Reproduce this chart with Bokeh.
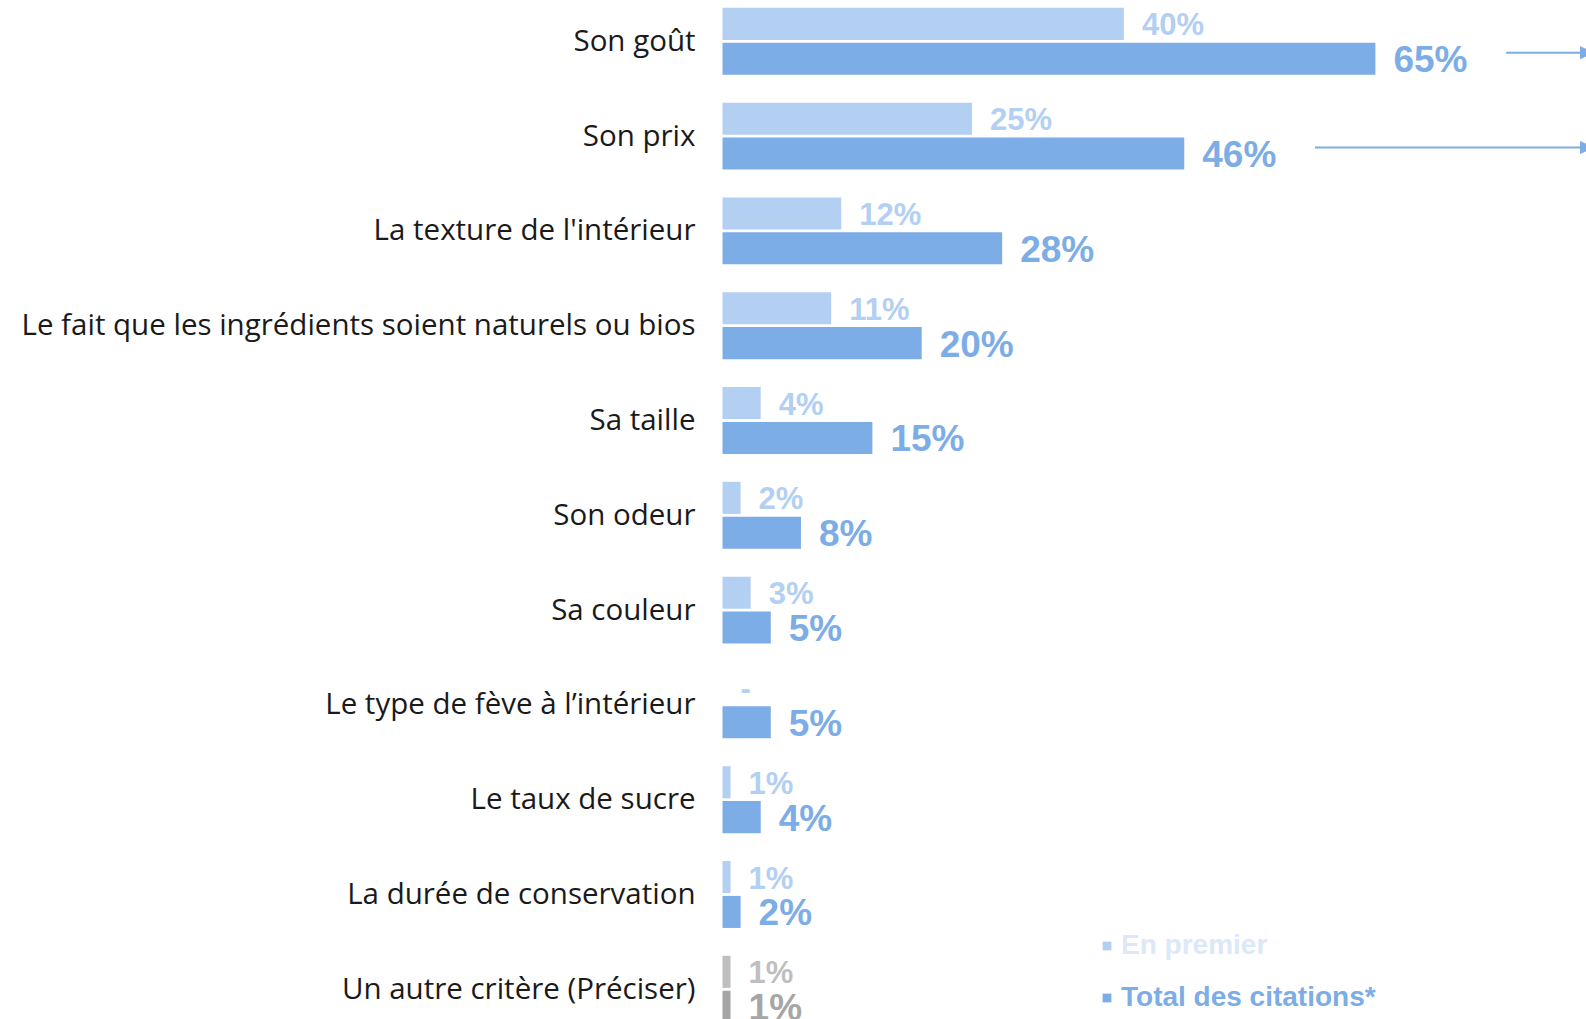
from bokeh.plotting import figure
from bokeh.models import ColumnDataSource, Range1d, Arrow, NormalHead, Legend, LegendItem
from bokeh.transform import dodge
from bokeh.core.properties import value
from bokeh.embed import file_html
from bokeh.resources import INLINE

# ---------------- data ----------------
categories = [
    "Son goût",
    "Son prix",
    "La texture de l'intérieur",
    "Le fait que les ingrédients soient naturels ou bios",
    "Sa taille",
    "Son odeur",
    "Sa couleur",
    "Le type de fève à l’intérieur",
    "Le taux de sucre",
    "La durée de conservation",
    "Un autre critère (Préciser)",
]
# bar lengths (unrounded), and their printed labels
en_premier = [39.9, 24.8, 11.8, 10.8, 3.8, 1.8, 2.8, 0, 0.8, 0.8, 0.8]
total_citations = [64.9, 45.9, 27.8, 19.8, 14.9, 7.8, 4.8, 4.8, 3.8, 1.8, 0.8]
en_premier_labels = ["40%", "25%", "12%", "11%", "4%", "2%", "3%", "-", "1%", "1%", "1%"]
total_labels = ["65%", "46%", "28%", "20%", "15%", "8%", "5%", "5%", "4%", "2%", "1%"]
arrow_rows = [0, 1]
legend_labels = ["En premier", "Total des citations*"]

# ---------------- style ----------------
LIGHT = "#B3CFF2"
DARK = "#7DADE6"
GREY_L = "#BFBFBF"
GREY_D = "#A6A6A6"
LEGEND_LIGHT_TXT = "#DCE8F8"
light_colors = [LIGHT] * 10 + [GREY_L]
dark_colors = [DARK] * 10 + [GREY_D]

W, H = 1586, 1019
PX_PER_PCT = 10.06
PX_PER_ROW = 94.8
BAR_X0 = 722      # px from left of figure where bars start
ROW0_Y = 40.8     # px from top of figure of first row centre
OFF = 0.184       # dodge of each bar from row centre (row units)
BAR_H = 0.338

rows = list(range(len(categories)))
src = ColumnDataSource(dict(
    row=rows, cat=categories, prem=en_premier, tot=total_citations,
    prem_lbl=en_premier_labels, tot_lbl=total_labels,
    lc=light_colors, dc=dark_colors,
))

p = figure(
    width=W, height=H, output_backend="svg", toolbar_location=None,
    x_range=Range1d(-BAR_X0 / PX_PER_PCT, (W - BAR_X0) / PX_PER_PCT),
    y_range=Range1d((H - ROW0_Y) / PX_PER_ROW, -ROW0_Y / PX_PER_ROW),
    min_border=0, x_axis_location=None, y_axis_location=None,
)
p.outline_line_color = None
p.xgrid.visible = False
p.ygrid.visible = False
p.background_fill_color = "white"

r_light = p.hbar(y=dodge("row", -OFF), left=0, right="prem", height=BAR_H,
                 fill_color="lc", line_color=None, source=src)
r_dark = p.hbar(y=dodge("row", OFF), left=0, right="tot", height=BAR_H,
                fill_color="dc", line_color=None, source=src)

# category labels
p.text(x=0, y="row", text="cat", source=src, x_offset=-27, y_offset=-2,
       text_align="right", text_baseline="middle",
       text_font=value("Open Sans"), text_font_size="29.5px", text_color="#1a1a1a")

# value labels
p.text(x="prem", y=dodge("row", -OFF), text="prem_lbl", source=src, x_offset=18, y_offset=1,
       text_align="left", text_baseline="middle",
       text_font=value("Liberation Sans"), text_font_style="bold",
       text_font_size="31px", text_color="lc")
p.text(x="tot", y=dodge("row", OFF), text="tot_lbl", source=src, x_offset=18, y_offset=1,
       text_align="left", text_baseline="middle",
       text_font=value("Liberation Sans"), text_font_style="bold",
       text_font_size="37px", text_color="dc")

# arrows
ARROW_GAP = 13
for i in arrow_rows:
    p.add_layout(Arrow(
        end=NormalHead(size=12, fill_color=DARK, line_color=DARK),
        x_start=total_citations[i] + ARROW_GAP, y_start=i + 0.12,
        x_end=p.x_range.end + 0.6, y_end=i + 0.12,
        line_color=DARK, line_width=2,
    ))

# legends
def make_legend(label, renderer, color, loc):
    lg = Legend(items=[LegendItem(label=label, renderers=[renderer], index=0)],
                location=loc, orientation="vertical",
                label_text_font="Liberation Sans", label_text_font_style="bold",
                label_text_font_size="28px", label_text_color=color,
                glyph_width=11, glyph_height=11, label_standoff=9,
                padding=0, margin=0, spacing=0, label_height=32,
                border_line_color=None, background_fill_alpha=0)
    p.add_layout(lg, "center")

make_legend(legend_labels[0], r_light, LEGEND_LIGHT_TXT, (1101, 58))
make_legend(legend_labels[1], r_dark, DARK, (1101, 6))

open("out.html", "w").write(file_html(p, INLINE))
